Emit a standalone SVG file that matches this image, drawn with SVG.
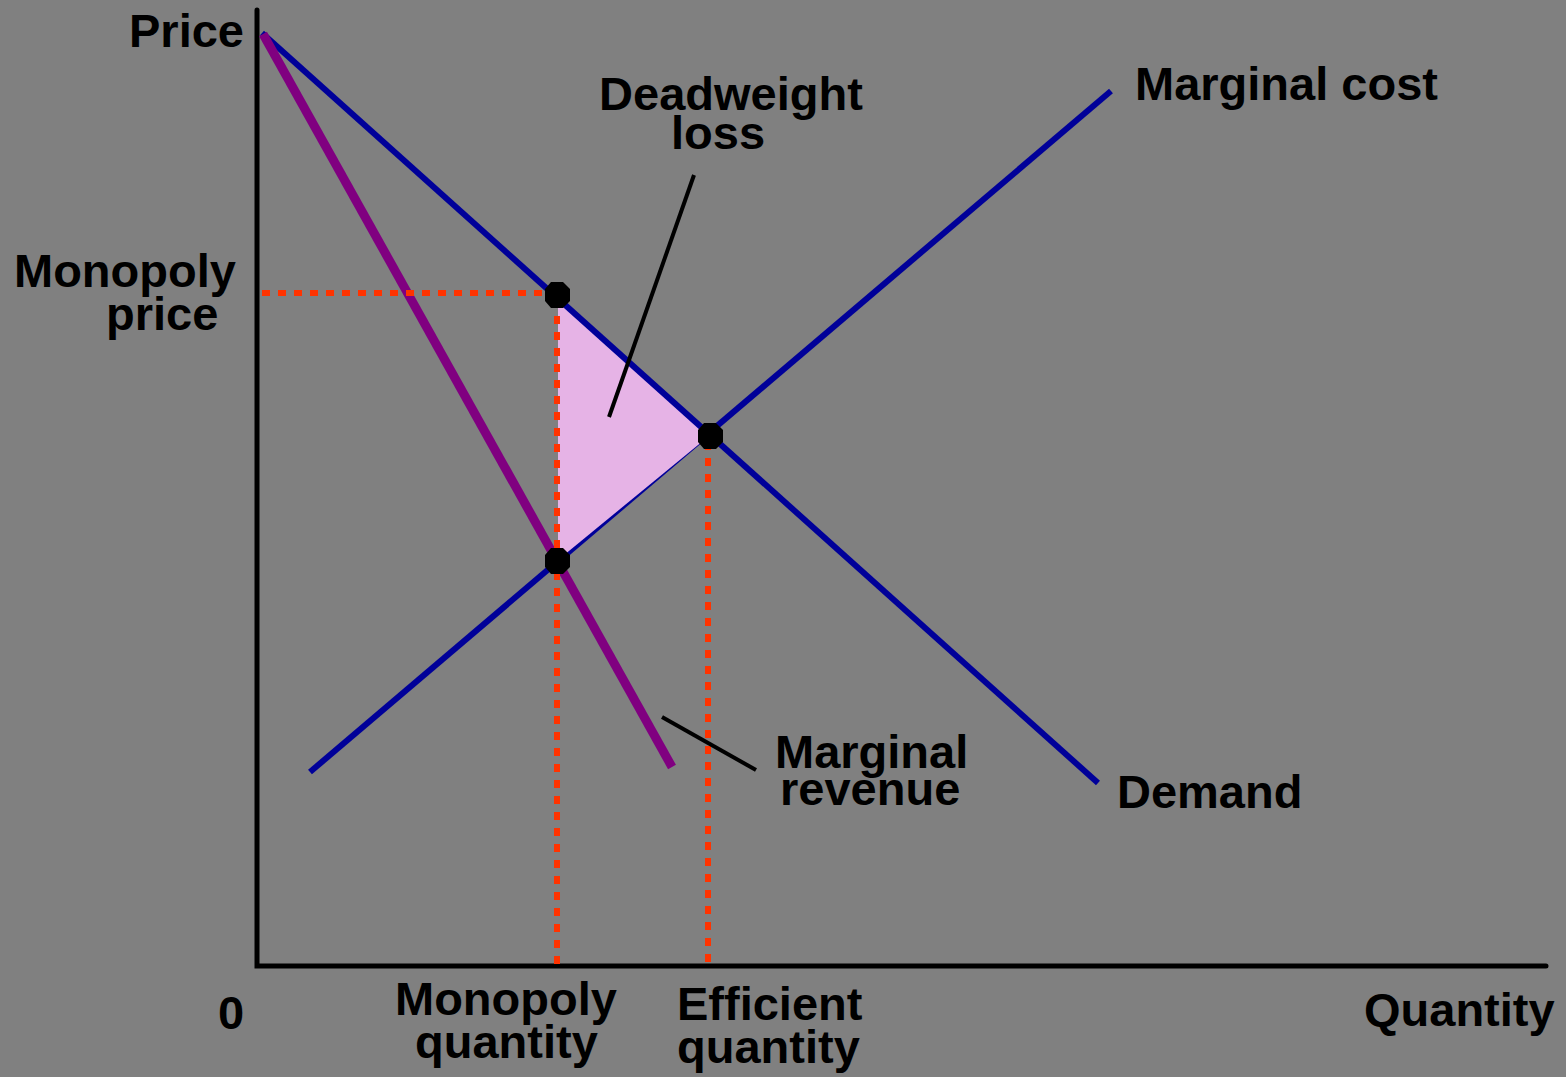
<svg xmlns="http://www.w3.org/2000/svg" width="1566" height="1077" viewBox="0 0 1566 1077">
<style>
text{font-family:"Liberation Sans",Arial,sans-serif;font-weight:bold;font-size:47px;fill:#000}
.axis{stroke:#000;stroke-width:5;stroke-linecap:round;fill:none}
.blue{stroke:#000099;stroke-width:6;fill:none}
.mr{stroke:#800080;stroke-width:9;fill:none}
.dot{stroke:#FF3300;stroke-width:6;stroke-dasharray:8 8;fill:none}
.lead{stroke:#000;stroke-width:4;fill:none}
</style>
<defs>
<polygon id="pt" points="-6,-13 6,-13 13,-6 13,6 6,13 -6,13 -12,6 -12,-6" fill="#000"/>
</defs>
<rect width="1566" height="1077" fill="#808080"/>
<g id="axes">
<path class="axis" d="M257,10 V966 H1546"/>
</g>
<g id="marginal-cost"><line class="blue" x1="310" y1="772" x2="1111" y2="91"/></g>
<polygon id="deadweight-area" points="558,297 709,436 558,560" fill="#E6B3E6"/>
<g id="demand"><line class="blue" x1="262" y1="33" x2="1098" y2="783"/></g>
<g id="marginal-revenue"><line class="mr" x1="263" y1="34" x2="672" y2="767"/></g>
<g id="guides">
<line class="dot" x1="262" y1="293" x2="548" y2="293"/>
<line class="dot" x1="557" y1="300" x2="557" y2="966"/>
<line class="dot" x1="708" y1="442" x2="708" y2="966"/>
</g>
<g id="leaders">
<line class="lead" x1="694" y1="175" x2="609" y2="417"/>
<line class="lead" x1="662" y1="717" x2="756" y2="770"/>
</g>
<g id="points">
<use href="#pt" x="557" y="295"/>
<use href="#pt" x="710" y="436"/>
<use href="#pt" x="557" y="561"/>
</g>
<g id="labels">
<text x="244" y="47" text-anchor="end">Price</text>
<text x="731" y="110" text-anchor="middle">Deadweight</text>
<text x="718" y="149" text-anchor="middle">loss</text>
<text x="1135" y="100">Marginal cost</text>
<text x="14" y="287">Monopoly</text>
<text x="106" y="330">price</text>
<text x="775" y="768">Marginal</text>
<text x="780" y="805">revenue</text>
<text x="1117" y="808">Demand</text>
<text x="218" y="1029">0</text>
<text x="395" y="1015">Monopoly</text>
<text x="415" y="1058">quantity</text>
<text x="677" y="1020">Efficient</text>
<text x="677" y="1063">quantity</text>
<text x="1364" y="1026">Quantity</text>
</g>
</svg>
